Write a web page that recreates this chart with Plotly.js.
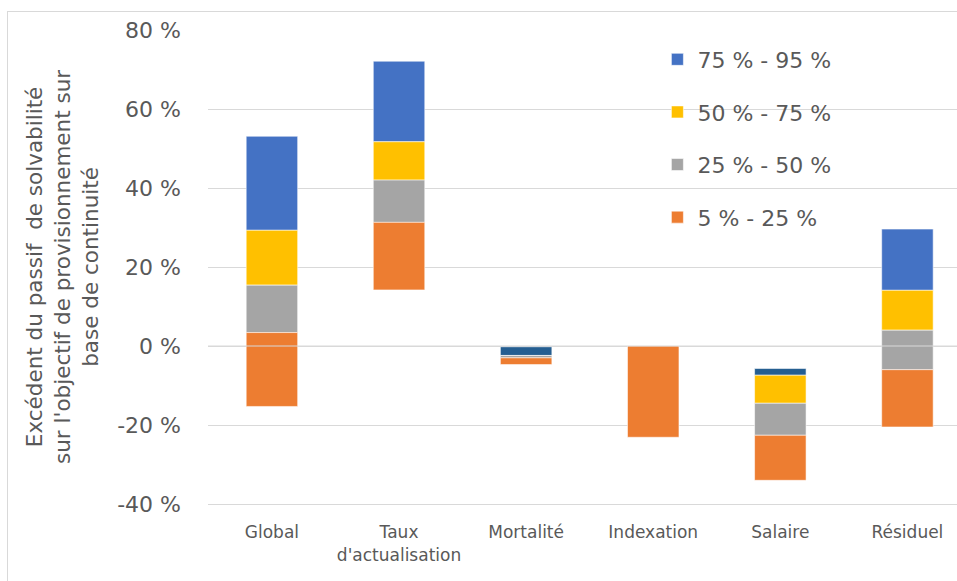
<!DOCTYPE html>
<html>
<head>
<meta charset="utf-8">
<script src="https://cdn.plot.ly/plotly-3.0.1.min.js"></script>
<style>
  html, body { margin: 0; padding: 0; background: #ffffff; overflow: hidden; }
  #frame { position: absolute; left: 7px; top: 11px; width: 1200px; height: 900px;
           border: 1px solid #d9d9d9; box-sizing: border-box; }
  #chart { position: absolute; left: 0; top: 0; width: 957px; height: 581px; }
</style>
</head>
<body>
<div id="frame"></div>
<div id="chart"></div>
<script>
// Categories of the decomposition
const categories = ['Global', "Taux<br>d'actualisation", 'Mortalité', 'Indexation', 'Salaire', 'Résiduel'];

// Percentile bounds of the surplus (in %), one value per category
const p5  = [-15.3, 14.2, -4.7, -23.1, -34.0, -20.5];
const p25 = [  3.4, 31.3, -3.0,   0.0, -22.6,  -6.0];
const p50 = [ 15.4, 42.0, -2.4,   0.0, -14.5,   4.0];
const p75 = [ 29.3, 51.7, -2.4,   0.0,  -7.4,  14.1];
const p95 = [ 53.1, 72.1, -0.2,   0.0,  -5.7,  29.6];

// Band names as shown in the legend
const bandNames = ['75 % - 95 %', '50 % - 75 %', '25 % - 50 %', '5 % - 25 %'];

// Y axis ticks
const yTicks = [-40, -20, 0, 20, 40, 60, 80];

const FONT = 'DejaVu Sans, sans-serif';
const GREY_TEXT = '#595959';
const GRID = '#d9d9d9';

const blue = '#4472C4', darkBlue = '#255E91';
const topColors = categories.map((c, i) => (p95[i] < 0 ? darkBlue : blue));

function band(name, lower, upper, color, group) {
  return {
    type: 'bar',
    name: name,
    legendgroup: group,
    x: categories,
    base: lower,
    y: upper.map((u, i) => u - lower[i]),
    width: 0.405,
    marker: { color: color, line: { color: 'rgba(255,255,255,0.55)', width: 1 } },
    hoverinfo: 'skip'
  };
}

const traces = [
  band(bandNames[0], p75, p95, topColors, 'g1'),
  band(bandNames[1], p50, p75, '#FFC000', 'g2'),
  band(bandNames[2], p25, p50, '#A5A5A5', 'g3'),
  band(bandNames[3], p5,  p25, '#ED7D31', 'g4')
];

const layout = {
  width: 957,
  height: 581,
  margin: { l: 208, r: 0, t: 30, b: 77 },
  paper_bgcolor: 'rgba(0,0,0,0)',
  plot_bgcolor: 'rgba(0,0,0,0)',
  barmode: 'overlay',
  font: { family: FONT, color: GREY_TEXT },
  showlegend: true,
  legend: {
    x: 0.6, xanchor: 'left',
    y: 0.982, yanchor: 'top',
    font: { family: FONT, size: 22, color: GREY_TEXT },
    traceorder: 'grouped',
    tracegroupgap: 21,
    bgcolor: 'rgba(0,0,0,0)'
  },
  xaxis: {
    type: 'category',
    range: [-0.503, 5.39],
    showgrid: false,
    showline: true,
    linecolor: GRID,
    linewidth: 1,
    ticks: '',
    tickfont: { family: FONT, size: 17, color: GREY_TEXT },
    ticklabelstandoff: 13,
    fixedrange: true
  },
  yaxis: {
    range: [-40, 80],
    tickvals: yTicks,
    ticktext: yTicks.map(v => v + ' %'),
    showgrid: true,
    gridcolor: GRID,
    gridwidth: 1,
    zeroline: false,
    showline: false,
    ticks: '',
    tickfont: { family: FONT, size: 22, color: GREY_TEXT },
    ticklabelstandoff: 26,
    fixedrange: true
  },
  shapes: [{
    type: 'line', xref: 'paper', yref: 'y', x0: 0, x1: 1, y0: 0, y1: 0,
    line: { color: GRID, width: 1 }, layer: 'above'
  }],
  annotations: [{
    xref: 'paper', yref: 'paper', x: 0, y: 0.5,
    xanchor: 'center', yanchor: 'middle',
    xshift: -146, yshift: 0,
    textangle: -90,
    showarrow: false,
    align: 'center',
    text: "Excédent du passif  de solvabilité<br>sur l'objectif de provisionnement sur<br>base de continuité",
    font: { family: FONT, size: 21.5, color: GREY_TEXT }
  }]
};

Plotly.newPlot('chart', traces, layout, { displayModeBar: false, staticPlot: true });
</script>
</body>
</html>
